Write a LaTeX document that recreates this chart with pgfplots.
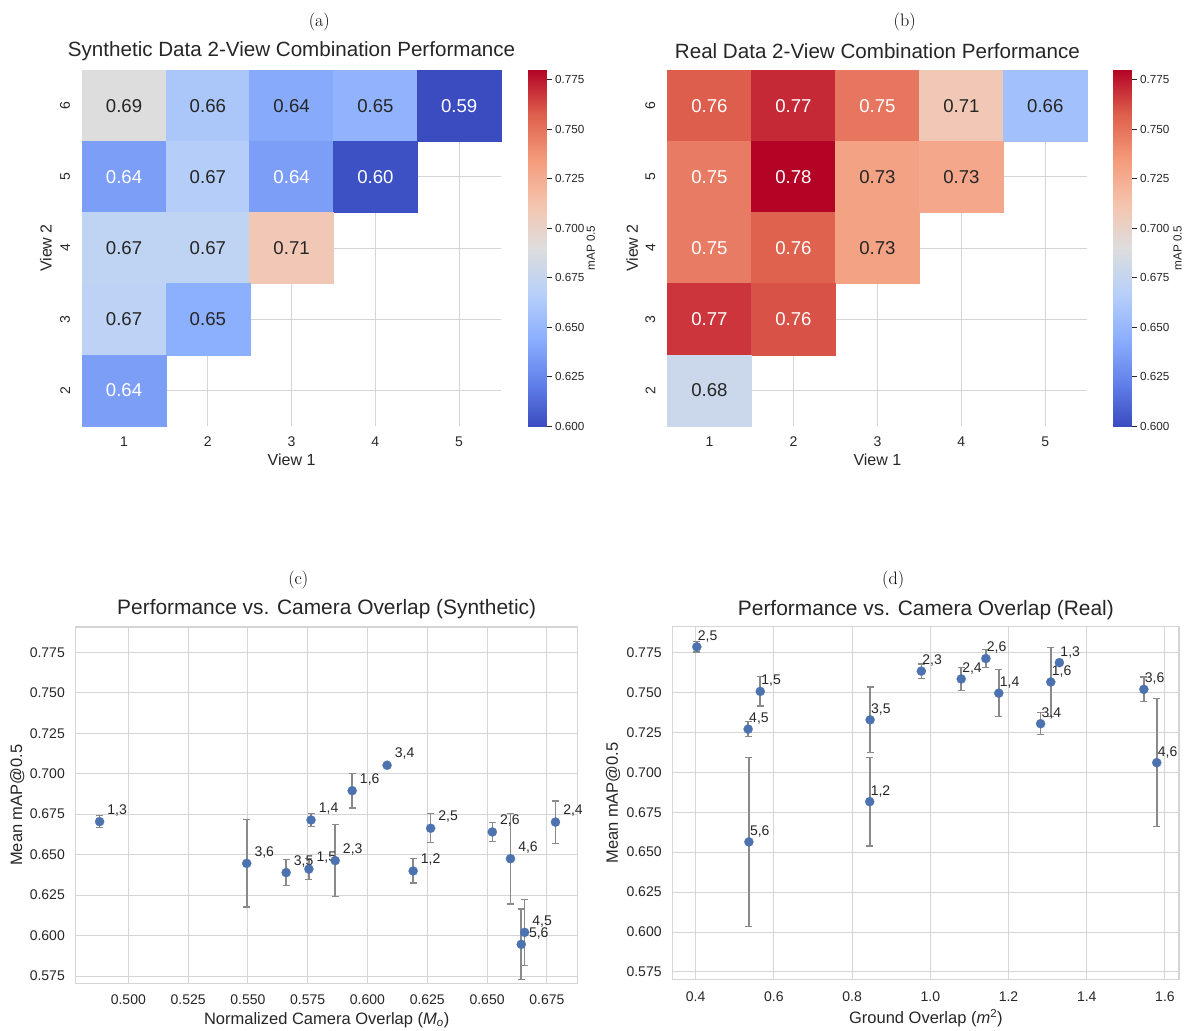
\documentclass[border=0pt]{standalone}
\usepackage{fontspec}
\usepackage{pgfplots}
\pgfplotsset{compat=1.18}
\usepackage{pgfplotstable}
\newfontfamily\sans{Liberation Sans}
\newcommand\fs[1]{\sans\fontsize{#1}{#1}\selectfont}
\def\commalab#1{\expandafter\commalabi#1\relax}
\def\commalabi#1#2\relax{#1,#2}
\definecolor{txt}{HTML}{262626}
\definecolor{sbblue}{HTML}{4C72B0}
\definecolor{gridc}{HTML}{D5D5D5}
\definecolor{ebar}{HTML}{8A8A8A}

\pgfplotsset{
  colormap={coolwarm}{rgb255=(59,76,192) rgb255=(98,130,234) rgb255=(141,176,254) rgb255=(184,208,249) rgb255=(221,221,221) rgb255=(245,196,173) rgb255=(244,154,123) rgb255=(222,96,77) rgb255=(180,4,38)},
  hm/.style={
    scale only axis, anchor=north west,
    xmin=0.5, xmax=5.5, ymin=1.5, ymax=6.5,
    xtick={1,2,3,4,5}, ytick={2,3,4,5,6},
    grid=major, grid style={gridc, line width=1pt},
    axis line style={draw=none},
    major tick length=0pt,
    /pgf/number format/assume math mode=true,
    ticklabel style={font=\fs{14}, text=txt, inner sep=0pt},
    xticklabel shift=10.7pt,
    yticklabel style={rotate=90, anchor=south},
    yticklabel shift=12pt,
    xlabel={View 1}, ylabel={View 2},
    label style={font=\fs{16}, text=txt},
    xlabel style={at={(axis description cs:0.5,-0.0955)}, anchor=center},
    title style={font=\fs{20.6}, text=txt, at={(axis description cs:0.5,1.0365)}, anchor=center},
    colormap name=coolwarm, point meta min=0.6, point meta max=0.78,
    clip=false,
  },
  cb/.style={
    scale only axis, anchor=north west, width=18.3pt, height=356pt,
    xmin=0, xmax=1, ymin=0.6, ymax=0.78,
    colormap name=coolwarm, point meta min=0.6, point meta max=0.78,
    axis line style={draw=none},
    xtick=\empty,
    ytick={0.6,0.625,0.65,0.675,0.7,0.725,0.75,0.775},
    ytick pos=right, yticklabel pos=right, tick align=outside, major tick length=5.5pt,
    tick style={draw=txt, line width=0.8pt},
    yticklabel style={font=\fs{11.7}, text=txt, inner sep=0pt, anchor=west, xshift=3.3pt,
      /pgf/number format/.cd, fixed, fixed zerofill, precision=3, assume math mode=true},
    ylabel={mAP 0.5},
    ylabel style={font=\fs{11.7}, text=txt, anchor=center},
  },
  cells/.style={scatter, only marks, mark=square*, mark size=35.6pt,
    mark options={xscale=#1},
    scatter/use mapped color={draw=mapped color, fill=mapped color},
    point meta=explicit},
  annot/.style={only marks, mark=*, mark size=0pt, mark options={draw=none, fill=none},
    point meta=explicit symbolic,
    nodes near coords,
    every node near coord/.append style={anchor=center, inner sep=0pt, font=\fs{18.6}, text=#1}},
  sc/.style={
    scale only axis, anchor=north west,
    grid=major, grid style={gridc, line width=1pt},
    axis line style={gridc, line width=1.2pt},
    major tick length=0pt,
    scaled ticks=false,
    ticklabel style={font=\fs{14}, text=txt, inner sep=0pt},
    label style={font=\fs{16.5}, text=txt},
    title style={font=\fs{20.9}, text=txt, anchor=center},
    clip=false,
    ytick={0.575,0.6,0.625,0.65,0.675,0.7,0.725,0.75,0.775},
    yticklabel style={/pgf/number format/.cd, fixed, fixed zerofill, precision=3, assume math mode=true},
    ylabel={Mean mAP@0.5},
  },
  dots/.style={only marks, mark=*, mark size=4.6pt,
    mark options={fill=sbblue, draw=sbblue, line width=0.2pt},
    scatter/use mapped color={draw=sbblue, fill=sbblue},
    point meta=explicit symbolic,
    nodes near coords={\commalab\pgfplotspointmeta},
    every node near coord/.append style={anchor=base west, inner sep=0pt, font=\fs{14}, text=txt, #1},
    error bars/.cd, y dir=both, y explicit,
    error bar style={draw=ebar, line width=1.6pt},
    error mark options={rotate=90, draw=ebar, mark size=3.5pt, line width=1.3pt}},
}

\pgfplotstableread{
x y e l
0.4880 0.6704 0.0036 13
0.5495 0.6446 0.0270 36
0.5660 0.6389 0.0081 35
0.5755 0.6411 0.0065 15
0.5764 0.6714 0.0041 14
0.5865 0.6463 0.0221 23
0.5936 0.6895 0.0107 16
0.6082 0.7052 0.0008 34
0.6191 0.6399 0.0075 12
0.6264 0.6663 0.0090 25
0.6522 0.6640 0.0057 26
0.6598 0.6475 0.0280 46
0.6643 0.5946 0.0219 56
0.6657 0.6020 0.0203 45
0.6786 0.6701 0.0131 24
}\synth

\pgfplotstableread{
x y e l
0.4029 0.7785 0.0032 25
0.5341 0.7270 0.0047 45
0.5361 0.6564 0.0530 56
0.5652 0.7506 0.0092 15
0.8460 0.7328 0.0205 35
0.8450 0.6816 0.0278 12
0.9770 0.7633 0.0044 23
1.0790 0.7584 0.0073 24
1.1420 0.7712 0.0055 26
1.1750 0.7495 0.0148 14
1.2820 0.7304 0.0069 34
1.3080 0.7565 0.0215 16
1.3300 0.7686 0.0010 13
1.5460 0.7519 0.0078 36
1.5790 0.7060 0.0400 46
}\real

\pgfplotstableread{
x y v
1 6 0.690
2 6 0.661
3 6 0.642
4 6 0.647
5 6 0.600
1 5 0.636
2 5 0.666
3 5 0.636
4 5 0.602
1 4 0.672
2 4 0.672
3 4 0.709
1 3 0.671
2 3 0.645
1 2 0.636
}\synthcells

\pgfplotstableread{
x y l
1 6 0.69
2 6 0.66
3 6 0.64
4 6 0.65
2 5 0.67
1 4 0.67
2 4 0.67
3 4 0.71
1 3 0.67
2 3 0.65
}\synthdark

\pgfplotstableread{
x y l
5 6 0.59
1 5 0.64
3 5 0.64
4 5 0.60
1 2 0.64
}\synthlight

\pgfplotstableread{
x y v
1 6 0.758
2 6 0.771
3 6 0.749
4 6 0.709
5 6 0.656
1 5 0.747
2 5 0.780
3 5 0.731
4 5 0.728
1 4 0.747
2 4 0.757
3 4 0.731
1 3 0.768
2 3 0.761
1 2 0.679
}\realcells

\pgfplotstableread{
x y l
1 6 0.76
2 6 0.77
3 6 0.75
1 5 0.75
2 5 0.78
1 4 0.75
2 4 0.76
1 3 0.77
2 3 0.76
}\reallight

\pgfplotstableread{
x y l
4 6 0.71
5 6 0.66
3 5 0.73
4 5 0.73
3 4 0.73
1 2 0.68
}\realdark

% colour-scale samples (the coolwarm control points between 0.60 and 0.78)
\pgfplotstableread{
x y
0 0.6
1 0.6
0 0.6225
1 0.6225
0 0.645
1 0.645
0 0.6675
1 0.6675
0 0.69
1 0.69
0 0.7125
1 0.7125
0 0.735
1 0.735
0 0.7575
1 0.7575
0 0.78
1 0.78
}\cbar

\begin{document}
\begin{tikzpicture}
\path[use as bounding box] (0pt,0pt) rectangle (1192pt,-1031pt);

\node[font=\fontsize{18}{18}\selectfont] at (319.3pt,-22pt) {(a)};
\node[font=\fontsize{18}{18}\selectfont] at (904.7pt,-22pt) {(b)};
\node[font=\fontsize{18}{18}\selectfont] at (298.3pt,-580pt) {(c)};
\node[font=\fontsize{18}{18}\selectfont] at (893.2pt,-580pt) {(d)};

% (a)
\begin{axis}[hm, at={(82.2pt,-70pt)}, width=418.8pt, height=356pt,
  title={Synthetic Data 2-View Combination Performance},
  ylabel style={at={(axis description cs:-0.0867,0.5)}, anchor=center}]
\addplot[cells=1.177] table[x=x, y=y, meta=v] {\synthcells};
\addplot[annot=txt] table[x=x, y=y, meta=l] {\synthdark};
\addplot[annot=white] table[x=x, y=y, meta=l] {\synthlight};
\end{axis}
\begin{axis}[cb, at={(527.7pt,-70pt)},
  ylabel style={at={(axis description cs:3.45,0.5)}}]
\addplot[surf, shader=interp, mesh/cols=2, point meta=y] table[x=x, y=y] {\cbar};
\end{axis}

% (b)
\begin{axis}[hm, at={(667.5pt,-70pt)}, width=419.8pt, height=356pt,
  title={Real Data 2-View Combination Performance},
  ylabel style={at={(axis description cs:-0.0843,0.5)}, anchor=center}]
\addplot[cells=1.179] table[x=x, y=y, meta=v] {\realcells};
\addplot[annot=white] table[x=x, y=y, meta=l] {\reallight};
\addplot[annot=txt] table[x=x, y=y, meta=l] {\realdark};
\end{axis}
\begin{axis}[cb, at={(1112.7pt,-70pt)},
  ylabel style={at={(axis description cs:3.55,0.5)}}]
\addplot[surf, shader=interp, mesh/cols=2, point meta=y] table[x=x, y=y] {\cbar};
\end{axis}

% (c)
\begin{axis}[sc, at={(75.7pt,-627pt)}, width=502pt, height=356.5pt,
  xmin=0.4780, xmax=0.6879, ymin=0.5704, ymax=0.7906,
  xtick={0.5,0.525,0.55,0.575,0.6,0.625,0.65,0.675},
  xticklabel style={/pgf/number format/.cd, fixed, fixed zerofill, precision=3, assume math mode=true},
  xticklabel shift=11.5pt, yticklabel shift=10.7pt,
  title={Performance vs. Camera Overlap (Synthetic)},
  title style={at={(axis description cs:0.5,1.0337)}},
  xlabel={Normalized Camera Overlap ({\itshape M}\textsubscript{\itshape o})},
  xlabel style={at={(axis description cs:0.5,-0.1024)}, anchor=center},
  ylabel style={at={(axis description cs:-0.1165,0.5)}, anchor=center}]
\addplot[dots={xshift=7.7pt, yshift=7.3pt}] table[x=x, y=y, y error=e, meta=l] {\synth};
\end{axis}

% (d)
\begin{axis}[sc, at={(672.8pt,-626.7pt)}, width=506.2pt, height=352.6pt,
  xmin=0.3415, xmax=1.6359, ymin=0.5704, ymax=0.7911,
  xtick={0.4,0.6,0.8,1.0,1.2,1.4,1.6},
  xticklabel style={/pgf/number format/.cd, fixed, fixed zerofill, precision=1, assume math mode=true},
  xticklabel shift=12.4pt, yticklabel shift=11pt,
  title={Performance vs. Camera Overlap (Real)},
  title style={at={(axis description cs:0.5,1.0303)}},
  xlabel={Ground Overlap ({\itshape m}\textsuperscript{2})},
  xlabel style={at={(axis description cs:0.5,-0.1106)}, anchor=center},
  ylabel style={at={(axis description cs:-0.1179,0.5)}, anchor=center}]
\addplot[dots={xshift=1pt, yshift=6.6pt}] table[x=x, y=y, y error=e, meta=l] {\real};
\end{axis}
\end{tikzpicture}
\end{document}
